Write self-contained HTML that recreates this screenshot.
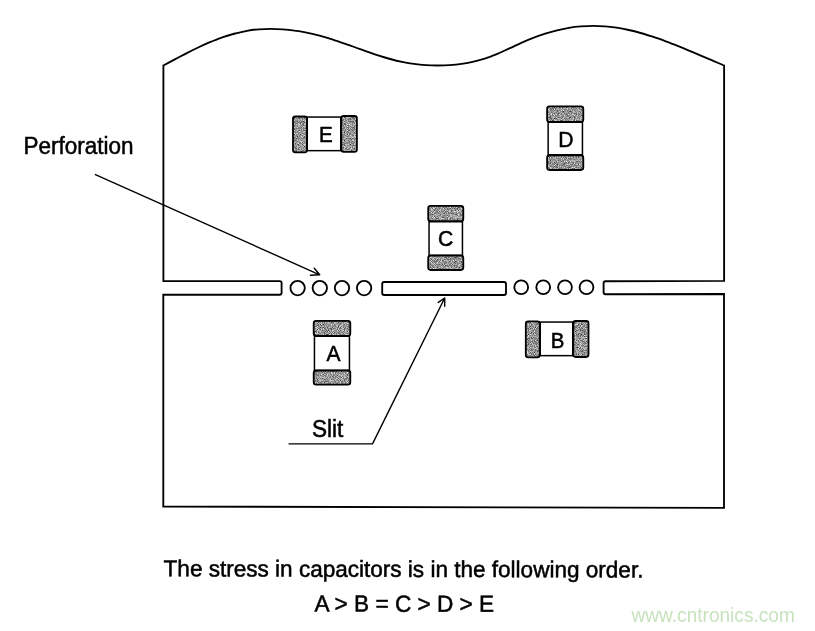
<!DOCTYPE html>
<html><head><meta charset="utf-8"><title>Stress in capacitors</title>
<style>
html,body{margin:0;padding:0;background:#fff;}
body{width:815px;height:631px;overflow:hidden;font-family:"Liberation Sans",sans-serif;}
svg{display:block;will-change:transform}
text{font-family:"Liberation Sans",sans-serif;fill:#000;stroke:#000;stroke-width:0.5px}
.lt{font-size:22.3px}
.lb{font-size:22.3px}
</style></head><body>
<svg width="815" height="631" viewBox="0 0 815 631">
<defs>
<filter id="nz" x="0" y="0" width="100%" height="100%" color-interpolation-filters="sRGB">
<feTurbulence type="fractalNoise" baseFrequency="1.3" numOctaves="1" seed="7" result="t"/>
<feColorMatrix in="t" type="matrix" values="2.0 0 0 0 -0.40  2.0 0 0 0 -0.40  2.0 0 0 0 -0.40  0 0 0 0 1" result="g"/>
<feComposite in="g" in2="SourceGraphic" operator="in"/>
</filter>
<pattern id="ht" width="2" height="2" patternUnits="userSpaceOnUse">
<rect width="2" height="2" fill="#a8a8a8"/><rect width="1" height="1" fill="#6e6e6e"/><rect x="1" y="1" width="1" height="1" fill="#747474"/>
</pattern>
</defs>
<rect width="815" height="631" fill="#fff"/>
<g fill="none" stroke="#000" stroke-width="1.85" stroke-linejoin="miter">
<path d="M163.4,65.5 C165.4,64.4 171.3,61.2 175.3,59.1 C179.3,57.0 183.3,54.8 187.3,52.8 C191.3,50.8 195.2,48.9 199.2,47.0 C203.2,45.1 207.1,43.4 211.1,41.7 C215.1,40.1 219.0,38.5 223.0,37.1 C227.0,35.7 231.0,34.5 235.0,33.5 C239.0,32.5 242.9,31.5 246.9,30.8 C250.9,30.1 254.8,29.6 258.8,29.3 C262.8,29.0 266.8,28.9 270.8,28.9 C274.8,28.9 278.7,29.1 282.7,29.4 C286.7,29.7 290.6,30.1 294.6,30.7 C298.6,31.2 302.6,31.9 306.6,32.7 C310.6,33.5 314.5,34.4 318.5,35.4 C322.5,36.4 326.4,37.6 330.4,38.8 C334.4,40.0 338.3,41.4 342.3,42.8 C346.3,44.2 350.3,45.6 354.3,47.0 C358.3,48.4 362.2,49.9 366.2,51.3 C370.2,52.7 374.1,54.1 378.1,55.4 C382.1,56.7 386.1,57.9 390.1,59.0 C394.1,60.1 398.0,61.1 402.0,61.9 C406.0,62.7 409.9,63.4 413.9,63.9 C417.9,64.4 421.9,64.8 425.9,65.1 C429.9,65.4 433.8,65.5 437.8,65.5 C441.8,65.5 445.7,65.4 449.7,65.1 C453.7,64.8 457.6,64.4 461.6,63.8 C465.6,63.2 469.6,62.5 473.6,61.6 C477.6,60.7 481.5,59.6 485.5,58.3 C489.5,57.0 493.4,55.4 497.4,53.8 C501.4,52.1 505.4,50.2 509.4,48.4 C513.4,46.6 517.3,44.6 521.3,42.8 C525.3,41.0 529.2,39.3 533.2,37.8 C537.2,36.3 541.2,34.9 545.2,33.6 C549.2,32.4 553.1,31.3 557.1,30.3 C561.1,29.3 565.0,28.5 569.0,27.8 C573.0,27.1 576.9,26.7 580.9,26.4 C584.9,26.1 588.9,25.8 592.9,25.8 C596.9,25.8 600.8,26.0 604.8,26.3 C608.8,26.6 612.7,27.1 616.7,27.7 C620.7,28.3 624.7,29.1 628.7,30.0 C632.7,30.9 636.6,31.9 640.6,33.0 C644.6,34.1 648.5,35.4 652.5,36.7 C656.5,38.0 660.5,39.3 664.5,40.8 C668.5,42.2 672.4,43.8 676.4,45.4 C680.4,47.0 684.3,48.6 688.3,50.3 C692.3,51.9 696.2,53.6 700.2,55.3 C704.2,57.0 708.2,58.7 712.2,60.4 C716.2,62.1 722.1,64.7 724.1,65.5 L724.1,280.8 L605.6,281.2 Q603.6,281.2 603.6,283.2 L603.6,292.2 Q603.6,294.2 605.6,294.2 L724,294 L724,507.8 L163.3,506.6 L163.3,294.7 L279.6,294.7 Q281.6,294.7 281.6,292.7 L281.6,283.1 Q281.6,281.1 279.6,281.1 L163.4,281.1 Z"/>
<rect x="382.2" y="282.0" width="123.8" height="13.0" rx="2"/>
<circle cx="297.6" cy="288.1" r="7.2"/><circle cx="319.8" cy="288.1" r="7.2"/><circle cx="342.0" cy="288.1" r="7.2"/><circle cx="364.1" cy="288.1" r="7.2"/><circle cx="521.2" cy="287.3" r="6.9"/><circle cx="543.2" cy="287.3" r="6.9"/><circle cx="565.0" cy="287.3" r="6.9"/><circle cx="586.5" cy="287.3" r="6.9"/>
</g>
<rect x="307.25" y="117.05" width="33.50" height="33.60" fill="#fff" stroke="#000" stroke-width="1.50"/><rect x="293.00" y="116.50" width="13.90" height="35.90" rx="2.4" fill="url(#ht)"/><rect x="293.00" y="116.50" width="13.90" height="35.90" rx="2.4" fill="#fff" filter="url(#nz)" opacity="0.68"/><rect x="293.00" y="116.50" width="13.90" height="35.90" rx="2.4" fill="none" stroke="#000" stroke-width="1.80"/><rect x="341.30" y="116.00" width="15.60" height="35.90" rx="2.4" fill="url(#ht)"/><rect x="341.30" y="116.00" width="15.60" height="35.90" rx="2.4" fill="#fff" filter="url(#nz)" opacity="0.68"/><rect x="341.30" y="116.00" width="15.60" height="35.90" rx="2.4" fill="none" stroke="#000" stroke-width="1.80"/><text transform="translate(319.00,142.30) rotate(0.000) scale(1,1.080)" style="font-size:20.60px;">E</text><rect x="540.25" y="322.05" width="32.50" height="33.60" fill="#fff" stroke="#000" stroke-width="1.50"/><rect x="525.80" y="321.30" width="13.90" height="36.10" rx="2.4" fill="url(#ht)"/><rect x="525.80" y="321.30" width="13.90" height="36.10" rx="2.4" fill="#fff" filter="url(#nz)" opacity="0.68"/><rect x="525.80" y="321.30" width="13.90" height="36.10" rx="2.4" fill="none" stroke="#000" stroke-width="1.80"/><rect x="573.30" y="321.00" width="15.20" height="36.00" rx="2.4" fill="url(#ht)"/><rect x="573.30" y="321.00" width="15.20" height="36.00" rx="2.4" fill="#fff" filter="url(#nz)" opacity="0.68"/><rect x="573.30" y="321.00" width="15.20" height="36.00" rx="2.4" fill="none" stroke="#000" stroke-width="1.80"/><text transform="translate(550.70,347.80) rotate(0.000) scale(1,1.080)" style="font-size:20.40px;">B</text><rect x="548.15" y="122.25" width="34.30" height="32.50" fill="#fff" stroke="#000" stroke-width="1.50"/><rect x="547.10" y="106.30" width="36.20" height="15.50" rx="2.4" fill="url(#ht)"/><rect x="547.10" y="106.30" width="36.20" height="15.50" rx="2.4" fill="#fff" filter="url(#nz)" opacity="0.68"/><rect x="547.10" y="106.30" width="36.20" height="15.50" rx="2.4" fill="none" stroke="#000" stroke-width="1.80"/><rect x="547.10" y="155.30" width="36.20" height="14.70" rx="2.4" fill="url(#ht)"/><rect x="547.10" y="155.30" width="36.20" height="14.70" rx="2.4" fill="#fff" filter="url(#nz)" opacity="0.68"/><rect x="547.10" y="155.30" width="36.20" height="14.70" rx="2.4" fill="none" stroke="#000" stroke-width="1.80"/><text transform="translate(558.30,146.70) rotate(0.000) scale(1,1.080)" style="font-size:21.20px;">D</text><rect x="429.05" y="221.75" width="33.40" height="33.50" fill="#fff" stroke="#000" stroke-width="1.50"/><rect x="428.20" y="205.90" width="35.10" height="15.30" rx="2.4" fill="url(#ht)"/><rect x="428.20" y="205.90" width="35.10" height="15.30" rx="2.4" fill="#fff" filter="url(#nz)" opacity="0.68"/><rect x="428.20" y="205.90" width="35.10" height="15.30" rx="2.4" fill="none" stroke="#000" stroke-width="1.80"/><rect x="428.20" y="255.70" width="35.10" height="14.30" rx="2.4" fill="url(#ht)"/><rect x="428.20" y="255.70" width="35.10" height="14.30" rx="2.4" fill="#fff" filter="url(#nz)" opacity="0.68"/><rect x="428.20" y="255.70" width="35.10" height="14.30" rx="2.4" fill="none" stroke="#000" stroke-width="1.80"/><text transform="translate(437.90,246.40) rotate(0.000) scale(1,1.080)" style="font-size:21.20px;">C</text><rect x="314.45" y="336.25" width="35.00" height="34.00" fill="#fff" stroke="#000" stroke-width="1.50"/><rect x="313.70" y="320.80" width="36.60" height="15.00" rx="2.4" fill="url(#ht)"/><rect x="313.70" y="320.80" width="36.60" height="15.00" rx="2.4" fill="#fff" filter="url(#nz)" opacity="0.68"/><rect x="313.70" y="320.80" width="36.60" height="15.00" rx="2.4" fill="none" stroke="#000" stroke-width="1.80"/><rect x="313.70" y="370.60" width="36.60" height="14.00" rx="2.4" fill="url(#ht)"/><rect x="313.70" y="370.60" width="36.60" height="14.00" rx="2.4" fill="#fff" filter="url(#nz)" opacity="0.68"/><rect x="313.70" y="370.60" width="36.60" height="14.00" rx="2.4" fill="none" stroke="#000" stroke-width="1.80"/><text transform="translate(326.40,360.80) rotate(0.000) scale(1,1.080)" style="font-size:21.00px;">A</text>
<g fill="none" stroke="#000" stroke-width="1.4" stroke-linecap="round" stroke-linejoin="round">
<path d="M95.4,174.6 L319.7,274.8 M314.3,268.2 L319.7,274.8 L310.4,275.3"/>
<path d="M289.1,443.9 L372.5,443.9 L444.7,298 M438.3,302.4 L444.7,298 L444.7,306.3"/>
</g>
<text transform="translate(23.60,153.70) rotate(0.000) scale(1,1.030)" style="font-size:22.50px;">Perforation</text><text transform="translate(312.00,437.40) rotate(0.000) scale(1,1.050)" style="font-size:22.60px;">Slit</text><text transform="translate(163.60,576.30) rotate(0.140) scale(1,1.020)" style="font-size:22.55px;">The stress in capacitors is in the following order.</text><text transform="translate(314.50,611.50) rotate(0.100) scale(1,1.030)" style="font-size:22.60px;">A &gt; B = C &gt; D &gt; E</text><text transform="translate(631.50,621.70) rotate(0.000) scale(1,1.080)" style="font-size:19.10px;fill:#c8e2be;stroke:none">www.cntronics.com</text>
</svg>
</body></html>
